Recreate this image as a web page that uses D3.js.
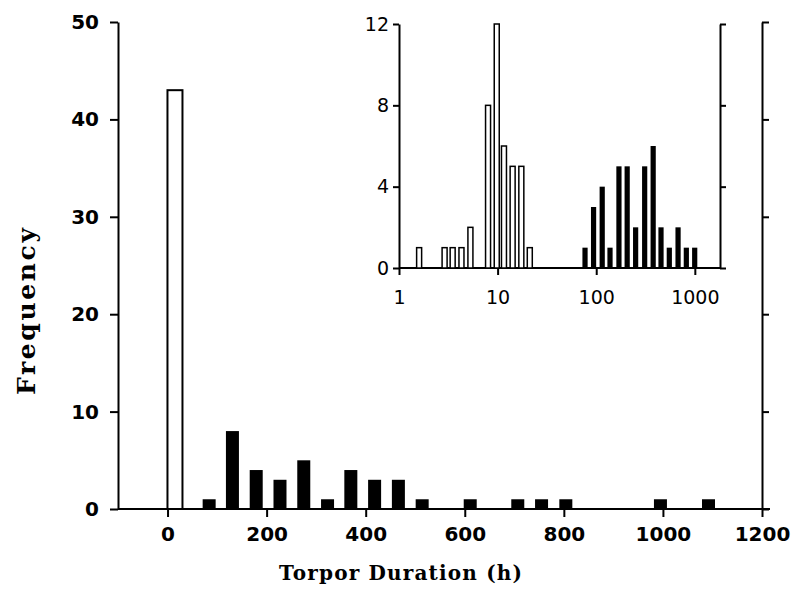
<!DOCTYPE html>
<html>
<head>
<meta charset="utf-8">
<script src="https://cdn.jsdelivr.net/npm/d3@7"></script>
<style>
  body { margin: 0; background: #fff; }
  svg { display: block; }
</style>
</head>
<body>
<div id="vis"></div>
<script>
// main histogram: bin centre (h) and count
const mainOpenHours = [15]
const mainOpenCounts = [43]
const mainSolidHours = [84, 131, 179, 227, 275, 323, 370, 418, 466, 514, 611, 707, 755, 804, 995, 1092]
const mainSolidCounts = [1, 8, 4, 3, 5, 1, 4, 3, 3, 1, 1, 1, 1, 1, 1, 1]
const mainXTicks = [0, 200, 400, 600, 800, 1000, 1200]
const mainYTicks = [0, 10, 20, 30, 40, 50]

// inset histogram on log axis
const insetOpenHours = [1.6, 2.9, 3.5, 4.3, 5.3, 8, 9.8, 11.6, 14.2, 17.4, 21.2]
const insetOpenCounts = [1, 1, 1, 1, 2, 8, 12, 6, 5, 5, 1]
const insetSolidHours = [77, 94, 115, 138, 170, 206, 251, 310, 378, 454, 551, 676, 820, 997]
const insetSolidCounts = [1, 3, 4, 1, 5, 5, 2, 5, 6, 2, 1, 2, 1, 1]
const insetXTicks = [1, 10, 100, 1000]
const insetYTicks = [0, 4, 8, 12]

const width = 792
const height = 605

const svg = d3.select("#vis")
    .append("svg")
    .attr("width", width)
    .attr("height", height)

const tickFont = "'DejaVu Sans', sans-serif"
// no Courier here, a slab-ish serif stretched to the same width is closer
const titleFont = "'DejaVu Serif', 'Liberation Serif', serif"

// ---------- main chart ----------
const x = d3.scaleLinear([-100, 1200], [118, 762])
const y = d3.scaleLinear([0, 50], [509, 22])

const main = svg.append("g")

// baseline, a little past the right axis
main.append("line")
    .attr("x1", x(-100)).attr("x2", x(1200) + 8)
    .attr("y1", y(0)).attr("y2", y(0))
    .attr("stroke", "#000").attr("stroke-width", 2)

const axisB = d3.axisBottom(x).tickValues(mainXTicks).tickFormat(d3.format("d"))
    .tickSize(8).tickSizeOuter(0).tickPadding(10)
const axisL = d3.axisLeft(y).tickValues(mainYTicks).tickSize(8).tickSizeOuter(0).tickPadding(11)
const axisR = d3.axisRight(y).tickValues(mainYTicks).tickSize(7).tickSizeOuter(0).tickFormat("")

const gx = main.append("g").attr("transform", `translate(0, ${y(0)})`).call(axisB)
gx.select(".domain").remove()
gx.selectAll("text").attr("dy", "0.7em")

main.append("g").attr("transform", `translate(${x(-100)}, 0)`).call(axisL)
main.append("g").attr("transform", `translate(${x(1200)}, 0)`).call(axisR)

main.selectAll("g.tick line, path.domain").attr("stroke", "#000").attr("stroke-width", 2)
main.selectAll("g.tick text")
    .attr("font-family", tickFont)
    .attr("font-weight", "bold")
    .attr("font-size", 20)
    .attr("fill", "#000")

main.selectAll("rect.open")
    .data(mainOpenHours)
    .join("rect")
        .attr("class", "open")
        .attr("x", d => x(d) - 7.5)
        .attr("y", (d, i) => y(mainOpenCounts[i]))
        .attr("width", 15)
        .attr("height", (d, i) => y(0) - y(mainOpenCounts[i]))
        .attr("fill", "#fff")
        .attr("stroke", "#000")
        .attr("stroke-width", 2)

main.selectAll("rect.solid")
    .data(mainSolidHours)
    .join("rect")
        .attr("class", "solid")
        .attr("x", d => x(d) - 6.5)
        .attr("y", (d, i) => y(mainSolidCounts[i]))
        .attr("width", 13)
        .attr("height", (d, i) => y(0) - y(mainSolidCounts[i]))
        .attr("fill", "#000")

// axis titles
svg.append("text")
    .attr("x", 279).attr("y", 580)
    .attr("font-family", titleFont)
    .attr("font-weight", "bold")
    .attr("font-size", 20)
    .attr("textLength", 243)
    .attr("lengthAdjust", "spacing")
    .text("Torpor Duration (h)")

svg.append("text")
    .attr("transform", "translate(35, 395) rotate(-90)")
    .attr("font-family", titleFont)
    .attr("font-weight", "bold")
    .attr("font-size", 25)
    .attr("textLength", 167)
    .attr("lengthAdjust", "spacing")
    .text("Frequency")

// ---------- inset ----------
const ix = d3.scaleLog([1, 1800], [399, 720])
const iy = d3.scaleLinear([0, 12], [268, 24])

const inset = svg.append("g")

inset.append("line")
    .attr("x1", ix(1)).attr("x2", ix(1800))
    .attr("y1", iy(0)).attr("y2", iy(0))
    .attr("stroke", "#000").attr("stroke-width", 2)

const iAxisB = d3.axisBottom(ix).tickValues(insetXTicks).tickFormat(d3.format("d"))
    .tickSize(7).tickSizeOuter(0).tickPadding(16)
const iAxisL = d3.axisLeft(iy).tickValues(insetYTicks).tickSize(6).tickSizeOuter(0).tickPadding(4)
const iAxisR = d3.axisRight(iy).tickValues(insetYTicks).tickSize(6).tickSizeOuter(0).tickFormat("")

const igx = inset.append("g").attr("transform", `translate(0, ${iy(0)})`).call(iAxisB)
igx.select(".domain").remove()
igx.selectAll("text").attr("dy", "0.7em")
inset.append("g").attr("transform", `translate(${ix(1)}, 0)`).call(iAxisL)
inset.append("g").attr("transform", `translate(${ix(1800)}, 0)`).call(iAxisR)

inset.selectAll("g.tick line, path.domain").attr("stroke", "#000").attr("stroke-width", 2)
inset.selectAll("g.tick text")
    .attr("font-family", tickFont)
    .attr("font-size", 19)
    .attr("fill", "#000")

inset.selectAll("rect.open")
    .data(insetOpenHours)
    .join("rect")
        .attr("class", "open")
        .attr("x", d => ix(d) - 2.5)
        .attr("y", (d, i) => iy(insetOpenCounts[i]))
        .attr("width", 5)
        .attr("height", (d, i) => iy(0) - iy(insetOpenCounts[i]))
        .attr("fill", "#fff")
        .attr("stroke", "#000")
        .attr("stroke-width", 1.5)

inset.selectAll("rect.solid")
    .data(insetSolidHours)
    .join("rect")
        .attr("class", "solid")
        .attr("x", d => ix(d) - 2.6)
        .attr("y", (d, i) => iy(insetSolidCounts[i]))
        .attr("width", 5.2)
        .attr("height", (d, i) => iy(0) - iy(insetSolidCounts[i]))
        .attr("fill", "#000")
</script>
</body>
</html>
